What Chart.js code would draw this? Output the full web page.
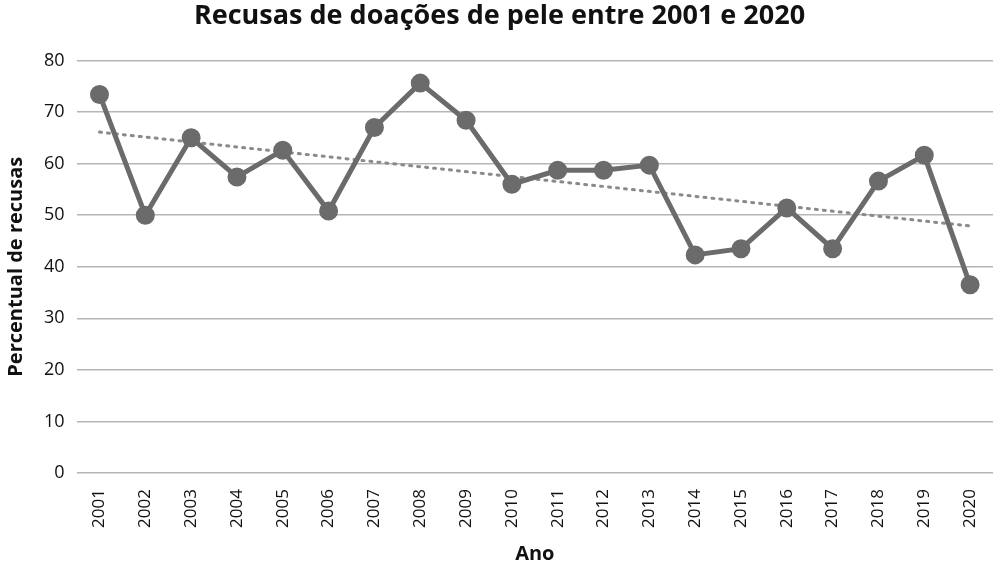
<!DOCTYPE html>
<html>
<head>
<meta charset="utf-8">
<script src="https://cdn.jsdelivr.net/npm/chart.js@4"></script>
<style>
  html, body { margin: 0; padding: 0; background: #fff; }
</style>
</head>
<body>
<canvas id="chart" width="1005" height="574"></canvas>
<script>
// dados
const anos = ["2001","2002","2003","2004","2005","2006","2007","2008","2009","2010",
              "2011","2012","2013","2014","2015","2016","2017","2018","2019","2020"];
const recusas = [73.4, 50.0, 65.0, 57.4, 62.6, 50.8, 67.0, 75.6, 68.4, 56.0,
                 58.7, 58.7, 59.7, 42.3, 43.5, 51.4, 43.5, 56.6, 61.6, 36.5];
// linha de tendência: extremos
const tendencia = [66.1, null, null, null, null, null, null, null, null, null,
                   null, null, null, null, null, null, null, null, null, 47.9];
const yTicks = [0, 10, 20, 30, 40, 50, 60, 70, 80];

const fonte = "'Open Sans', Lato, sans-serif";

new Chart(document.getElementById("chart").getContext("2d"), {
  type: "line",
  data: {
    labels: anos,
    datasets: [
      {
        data: recusas,
        borderColor: "#6b6b6b",
        backgroundColor: "#6b6b6b",
        borderWidth: 5,
        pointRadius: 7,
        pointHoverRadius: 7,
        tension: 0
      },
      {
        data: tendencia,
        spanGaps: true,
        borderColor: "#8a8a8a",
        borderWidth: 3,
        borderDash: [2, 6],
        borderCapStyle: "round",
        pointRadius: 0
      }
    ]
  },
  options: {
    responsive: false,
    animation: false,
    devicePixelRatio: 1,
    layout: { padding: { left: 0, right: 6, top: 0, bottom: 4 } },
    plugins: {
      legend: { display: false },
      tooltip: { enabled: false },
      title: {
        display: true,
        text: "Recusas de doações de pele entre 2001 e 2020",
        color: "#111",
        font: { family: fonte, size: 27, weight: "bold" },
        padding: { top: 0, bottom: 28 }
      }
    },
    scales: {
      x: {
        offset: true,
        grid: { display: false },
        border: { display: false },
        ticks: {
          color: "#111",
          font: { family: fonte, size: 17 },
          minRotation: 90, maxRotation: 90, padding: 8
        },
        title: {
          display: true, text: "Ano", color: "#111",
          font: { family: fonte, size: 20, weight: "bold" }, padding: { top: 6 }
        }
      },
      y: {
        min: 0, max: 80,
        afterBuildTicks: axis => { axis.ticks = yTicks.map(v => ({ value: v })); },
        grid: { color: "#b5b5b5", lineWidth: 1.5, drawTicks: false },
        border: { display: false },
        ticks: { color: "#111", font: { family: fonte, size: 18 }, padding: 12 },
        title: {
          display: true, text: "Percentual de recusas", color: "#111",
          font: { family: fonte, size: 20, weight: "bold" }, padding: { bottom: 4 }
        }
      }
    }
  }
});
</script>
</body>
</html>
